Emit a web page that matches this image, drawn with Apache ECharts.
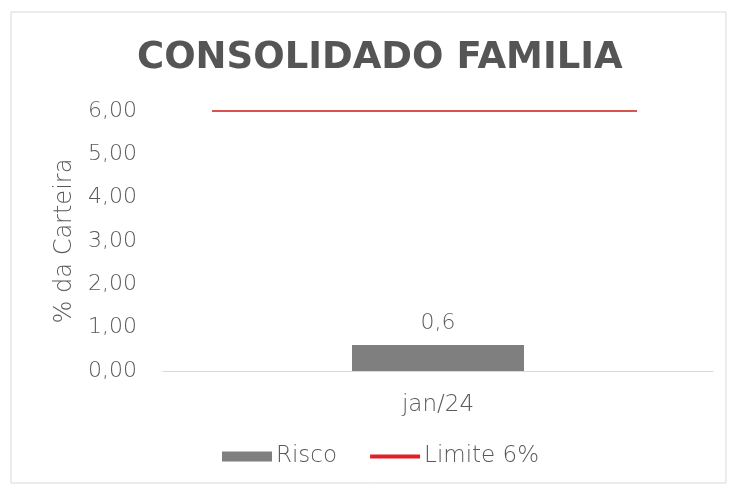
<!DOCTYPE html>
<html>
<head>
<meta charset="utf-8">
<script src="https://cdn.jsdelivr.net/npm/echarts@6/dist/echarts.min.js"></script>
<style>
  html, body { margin: 0; padding: 0; background: #fff; }
  #main { width: 735px; height: 488px; }
</style>
</head>
<body>
<div id="main"></div>
<script>
  // dados do grafico
  var categorias = ['jan/24'];
  var risco = [0.6];
  var limite = [6, 6]; // linha de limite (dois pontos)
  var yTicks = [0, 1, 2, 3, 4, 5, 6];

  var fonte = '"DejaVu Sans", sans-serif';
  var cinzaTexto = '#595959';

  function fmt(v) {
    return v.toFixed(2).replace('.', ',');
  }

  var chart = echarts.init(document.getElementById('main'));

  var option = {
    backgroundColor: '#fff',
    animation: false,
    title: {
      text: 'CONSOLIDADO FAMILIA',
      left: 132,
      top: 35,
      textStyle: {
        fontFamily: '"DejaVu Sans", sans-serif',
        fontWeight: 'bold',
        fontSize: 37,
        color: '#555555'
      }
    },
    graphic: [{
      type: 'rect',
      shape: { x: 11, y: 12, width: 715, height: 471 },
      style: { fill: 'none', stroke: '#d9d9d9', lineWidth: 1 },
      silent: true
    }],
    legend: {
      bottom: 20,
      left: 222,
      padding: 0,
      itemGap: 31,
      itemWidth: 50,
      itemHeight: 10,
      textStyle: { fontFamily: fonte, fontSize: 23, color: cinzaTexto, fontWeight: 200, padding: [0, 0, 0, -1] },
      data: [
        { name: 'Risco', icon: 'rect' },
        { name: 'Limite 6%', lineStyle: { width: 4, color: '#e31e24' }, itemStyle: { opacity: 0 } }
      ]
    },
    grid: [
      { left: 163, right: 22, top: 111, bottom: 117 },
      { left: 212, right: 98, top: 111, bottom: 117 }
    ],
    xAxis: [{
      type: 'category',
      gridIndex: 0,
      data: categorias,
      axisTick: { show: false },
      axisLine: { lineStyle: { color: '#d9d9d9', width: 1 } },
      axisLabel: { fontFamily: fonte, fontSize: 23, color: cinzaTexto, fontWeight: 200, margin: 23 }
    }, {
      type: 'category',
      gridIndex: 1,
      data: ['a', 'b'],
      boundaryGap: false,
      show: false
    }],
    yAxis: [{
      type: 'value',
      gridIndex: 0,
      min: 0,
      max: 6,
      interval: 1,
      name: '% da Carteira',
      nameLocation: 'middle',
      nameGap: 80,
      nameTextStyle: { fontFamily: fonte, fontSize: 24, color: cinzaTexto, fontWeight: 200 },
      splitLine: { show: false },
      axisLine: { show: false },
      axisTick: { show: false },
      axisLabel: {
        fontFamily: fonte, fontSize: 22, color: cinzaTexto, fontWeight: 200, margin: 26,
        formatter: function (v) { return fmt(v); }
      }
    }, {
      type: 'value',
      gridIndex: 1,
      min: yTicks[0],
      max: yTicks[yTicks.length - 1],
      show: false
    }],
    series: [{
      name: 'Risco',
      type: 'bar',
      xAxisIndex: 0,
      yAxisIndex: 0,
      data: risco,
      barWidth: 172,
      itemStyle: { color: '#7f7f7f' },
      label: {
        show: true,
        position: 'top',
        distance: 11,
        fontFamily: fonte,
        fontSize: 22,
        fontWeight: 200,
        color: cinzaTexto,
        formatter: function (p) { return String(p.value).replace('.', ','); }
      }
    }, {
      name: 'Limite 6%',
      type: 'line',
      xAxisIndex: 1,
      yAxisIndex: 1,
      data: limite,
      symbol: 'none',
      lineStyle: { color: '#d9534f', width: 2 },
      itemStyle: { color: '#e31e24' }
    }]
  };

  chart.setOption(option);
</script>
</body>
</html>
